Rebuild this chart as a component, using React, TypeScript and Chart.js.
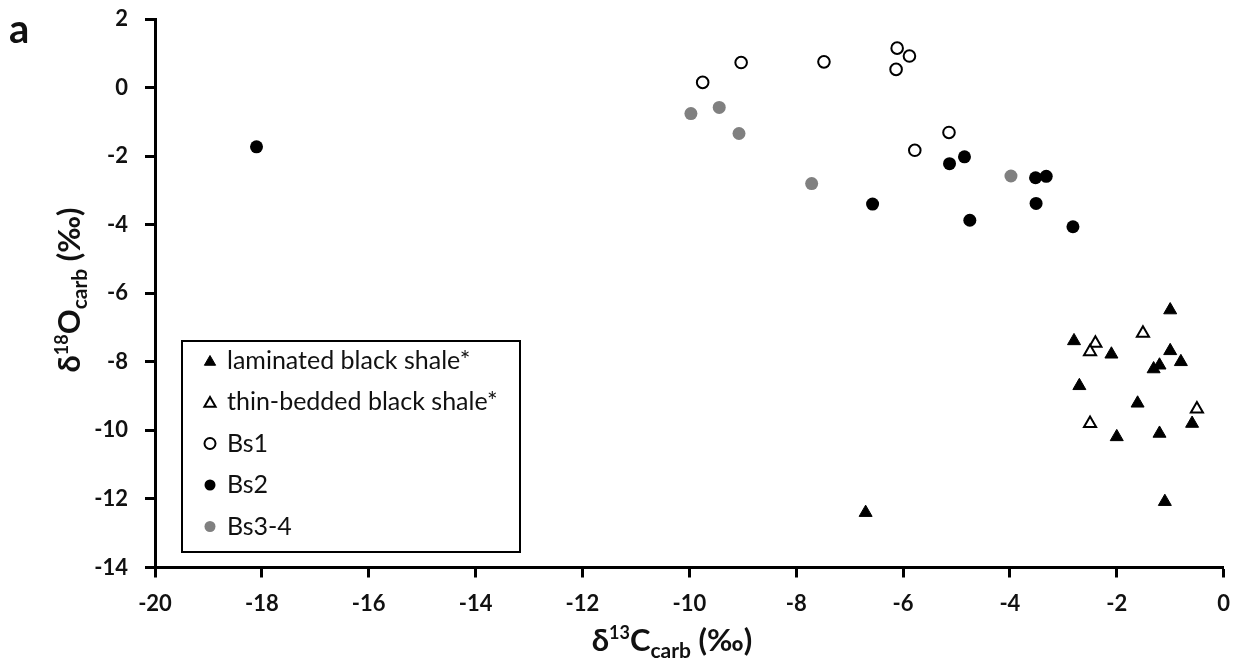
import React, { useEffect, useRef } from "react";
import { Chart, registerables } from "chart.js";
import { drawPoint } from "chart.js/helpers";

Chart.register(...registerables);

// ---- data ----
const laminatedX = [-1.0, -2.8, -2.1, -1.0, -0.8, -1.2, -1.31, -2.7, -1.61, -0.59, -2.0, -1.2, -1.1, -6.7];
const laminatedY = [-6.49, -7.39, -7.78, -7.68, -8.0, -8.1, -8.21, -8.7, -9.21, -9.8, -10.19, -10.09, -12.08, -12.4];

const thinX = [-1.51, -2.4, -2.5, -0.5, -2.5];
const thinY = [-7.17, -7.46, -7.71, -9.38, -9.8];

const bs1X = [-9.75, -9.03, -7.48, -6.11, -5.88, -6.13, -5.14, -5.78];
const bs1Y = [0.15, 0.73, 0.75, 1.15, 0.92, 0.53, -1.31, -1.83];

const bs2X = [-18.1, -6.57, -5.13, -4.85, -3.52, -3.32, -3.51, -4.75, -2.82];
const bs2Y = [-1.73, -3.4, -2.22, -2.02, -2.63, -2.59, -3.38, -3.87, -4.06];

const bs34X = [-9.97, -9.44, -9.07, -7.71, -3.98];
const bs34Y = [-0.76, -0.58, -1.34, -2.8, -2.58];

const seriesLabels = ["laminated black shale*", "thin-bedded black shale*", "Bs1", "Bs2", "Bs3-4"];
const xTicks = [-20, -18, -16, -14, -12, -10, -8, -6, -4, -2, 0];
const yTicks = [2, 0, -2, -4, -6, -8, -10, -12, -14];

const FONT = "Lato";

const toPts = (xs: number[], ys: number[]) => xs.map((x, i) => ({ x, y: ys[i] }));

type Part = { t: string; size: number; dy: number };
const xTitleParts: Part[] = [
  { t: "δ", size: 31, dy: 0 },
  { t: "13", size: 18, dy: -12 },
  { t: "C", size: 31, dy: 0 },
  { t: "carb", size: 21, dy: 7 },
  { t: " (‰)", size: 31, dy: 0 },
];
const yTitleParts: Part[] = [
  { t: "δ", size: 31, dy: 0 },
  { t: "18", size: 18, dy: -12 },
  { t: "O", size: 31, dy: 0 },
  { t: "carb", size: 21, dy: 7 },
  { t: " (‰)", size: 31, dy: 0 },
];

function drawRich(ctx: CanvasRenderingContext2D, parts: Part[], cx: number, cy: number, rot: number) {
  ctx.save();
  ctx.translate(cx, cy);
  ctx.rotate(rot);
  ctx.fillStyle = "#111";
  ctx.textBaseline = "alphabetic";
  ctx.textAlign = "left";
  let total = 0;
  const widths = parts.map((p) => {
    ctx.font = `bold ${p.size}px ${FONT}`;
    const w = ctx.measureText(p.t).width;
    total += w;
    return w;
  });
  let x = -total / 2;
  parts.forEach((p, i) => {
    ctx.font = `bold ${p.size}px ${FONT}`;
    ctx.fillText(p.t, x, p.dy);
    x += widths[i];
  });
  ctx.restore();
}

const textPlugin = {
  id: "customText",
  afterDraw(chart: any) {
    const ctx: CanvasRenderingContext2D = chart.ctx;
    // axis titles
    drawRich(ctx, xTitleParts, 672, 651, 0);
    drawRich(ctx, yTitleParts, 80, 290, -Math.PI / 2);
    // panel label
    ctx.save();
    ctx.fillStyle = "#111";
    ctx.font = `bold 40px ${FONT}`;
    ctx.textBaseline = "alphabetic";
    ctx.fillText("a", 9, 43);
    ctx.restore();

    // legend box
    const bx = 182, by = 341, bw = 338, bh = 211;
    ctx.save();
    ctx.fillStyle = "#fff";
    ctx.fillRect(bx, by, bw, bh);
    ctx.strokeStyle = "#000";
    ctx.lineWidth = 2;
    ctx.strokeRect(bx, by, bw, bh);
    const rows = [360.5, 402, 443.5, 485, 526.5];
    chart.data.datasets.forEach((ds: any, i: number) => {
      const y = rows[i];
      ctx.save();
      ctx.fillStyle = ds.pointBackgroundColor;
      ctx.strokeStyle = ds.pointBorderColor;
      ctx.lineWidth = ds.pointBorderWidth;
      drawPoint(ctx, { pointStyle: ds.pointStyle, radius: ds.pointStyle === "triangle" ? 6.5 : 5.5, borderWidth: ds.pointBorderWidth, rotation: 0 } as any, 210, y + (ds.pointStyle === "triangle" ? 1.5 : 0));
      ctx.restore();
      ctx.fillStyle = "#111";
      ctx.font = `25px ${FONT}`;
      ctx.textBaseline = "middle";
      ctx.fillText(ds.label, 227, y);
    });
    ctx.restore();
  },
};

export default function App() {
  const ref = useRef<HTMLCanvasElement>(null);
  useEffect(() => {
    if (!ref.current) return;
    const chart = new Chart(ref.current, {
      type: "scatter",
      data: {
        datasets: [
          {
            label: seriesLabels[0],
            data: toPts(laminatedX, laminatedY),
            pointStyle: "triangle",
            pointRadius: 7.5,
            pointBackgroundColor: "#000",
            pointBorderColor: "#000",
            pointBorderWidth: 1,
          },
          {
            label: seriesLabels[1],
            data: toPts(thinX, thinY),
            pointStyle: "triangle",
            pointRadius: 7,
            pointBackgroundColor: "#fff",
            pointBorderColor: "#000",
            pointBorderWidth: 2,
          },
          {
            label: seriesLabels[2],
            data: toPts(bs1X, bs1Y),
            pointStyle: "circle",
            pointRadius: 5.8,
            pointBackgroundColor: "#fff",
            pointBorderColor: "#000",
            pointBorderWidth: 2,
          },
          {
            label: seriesLabels[3],
            data: toPts(bs2X, bs2Y),
            pointStyle: "circle",
            pointRadius: 6.5,
            pointBackgroundColor: "#000",
            pointBorderColor: "#000",
            pointBorderWidth: 0,
          },
          {
            label: seriesLabels[4],
            data: toPts(bs34X, bs34Y),
            pointStyle: "circle",
            pointRadius: 6.5,
            pointBackgroundColor: "#808080",
            pointBorderColor: "#808080",
            pointBorderWidth: 0,
          },
        ] as any,
      },
      options: {
        animation: false,
        responsive: false,
        devicePixelRatio: 1,
        layout: { padding: { top: 19, right: 18, bottom: 0, left: 0 } },
        plugins: {
          legend: { display: false },
          tooltip: { enabled: false },
        },
        scales: {
          x: {
            type: "linear",
            min: -20,
            max: 0,
            afterBuildTicks: (s: any) => {
              s.ticks = xTicks.map((v) => ({ value: v }));
            },
            afterFit: (s: any) => {
              s.height = 101.5;
            },
            border: { display: true, color: "#000", width: 3 },
            grid: { drawOnChartArea: false, drawTicks: true, tickLength: 10, tickWidth: 3, tickColor: "#000" },
            ticks: { color: "#111", padding: 13, font: { family: FONT, weight: "bold", size: 22 } },
          },
          y: {
            type: "linear",
            min: -14,
            max: 2,
            afterBuildTicks: (s: any) => {
              s.ticks = yTicks.map((v) => ({ value: v }));
            },
            afterFit: (s: any) => {
              s.width = 155;
              s.paddingTop = 0;
              s.paddingBottom = 0;
            },
            border: { display: true, color: "#000", width: 3 },
            grid: { drawOnChartArea: false, drawTicks: true, tickLength: 10, tickWidth: 3, tickColor: "#000" },
            ticks: { color: "#111", padding: 17, font: { family: FONT, weight: "bold", size: 22 } },
          },
        },
      } as any,
      plugins: [textPlugin],
    });
    return () => chart.destroy();
  }, []);
  return (
    <div style={{ position: "fixed", left: 0, top: 0, width: 1243, height: 669, background: "#fff" }}>
      <canvas ref={ref} width={1243} height={669} />
    </div>
  );
}
